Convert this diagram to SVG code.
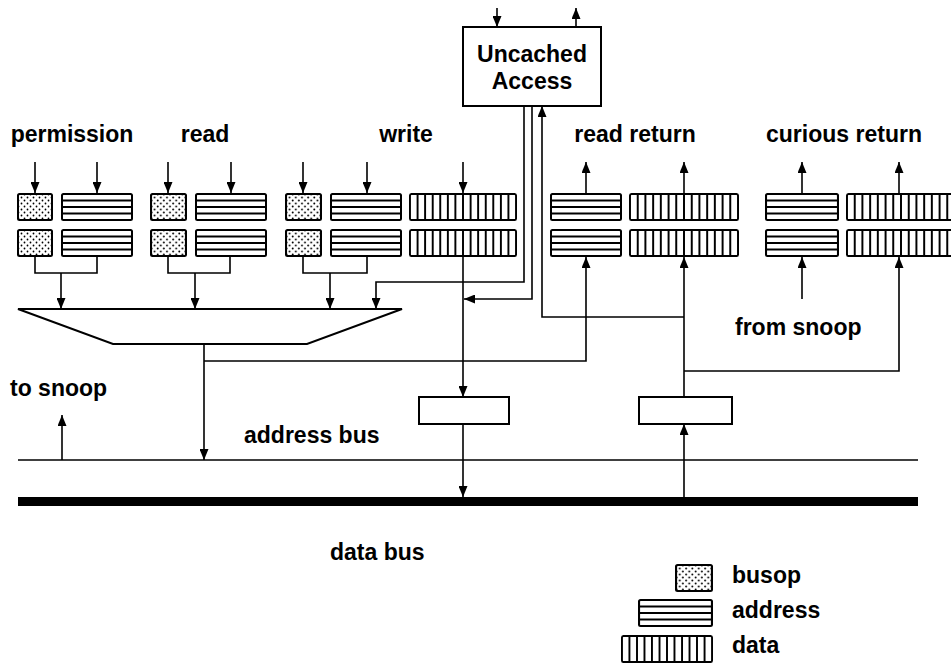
<svg xmlns="http://www.w3.org/2000/svg" width="951" height="665" viewBox="0 0 951 665">
  <style>
    .box { fill: #fff; stroke: #000; stroke-width: 2; }
    .wire { fill: none; stroke: #000; stroke-width: 1.6; }
    .arr { marker-end: url(#ah); }
    .lbl { font-family: "Liberation Sans", Arial, sans-serif; font-weight: bold; font-size: 23px; fill: #000; }
    .mid { text-anchor: middle; }
  </style>
  <defs>
    <marker id="ah" viewBox="0 0 11 9" refX="11" refY="4.5" markerWidth="11" markerHeight="9" markerUnits="userSpaceOnUse" orient="auto">
      <path d="M0,0 L11,4.5 L0,9 z" fill="#000"/>
    </marker>
    <pattern id="dots" width="6" height="6" patternUnits="userSpaceOnUse">
      <rect width="6" height="6" fill="#fff"/>
      <circle cx="1.5" cy="1.5" r="0.9" fill="#000"/>
      <circle cx="4.5" cy="4.5" r="0.9" fill="#000"/>
    </pattern>
    <!-- busop cell: dotted fill -->
    <symbol id="busop" viewBox="0 0 36 28" preserveAspectRatio="none">
      <rect x="1" y="1" width="34" height="26" rx="1.5" fill="url(#dots)" stroke="#000" stroke-width="2"/>
    </symbol>
    <!-- address cell: horizontal bands -->
    <symbol id="addr" viewBox="0 0 72 28" preserveAspectRatio="none">
      <rect x="1" y="1" width="70" height="26" rx="1.5" class="box"/>
      <path d="M1 7.5H71M1 14H71M1 20.5H71" stroke="#000" stroke-width="2"/>
    </symbol>
    <!-- data cell: vertical bands -->
    <symbol id="data" viewBox="0 0 112 28" preserveAspectRatio="none">
      <rect x="1" y="1" width="110" height="26" rx="1.5" class="box"/>
      <path d="M8.9 1V27M16.7 1V27M24.6 1V27M32.4 1V27M40.3 1V27M48.1 1V27M56 1V27M63.9 1V27M71.7 1V27M79.6 1V27M87.4 1V27M95.3 1V27M103.1 1V27" stroke="#000" stroke-width="2"/>
    </symbol>
    <symbol id="data12" viewBox="0 0 96 28" preserveAspectRatio="none">
      <rect x="1" y="1" width="94" height="26" rx="1.5" class="box"/>
      <path d="M8.8 1V27M16.7 1V27M24.5 1V27M32.3 1V27M40.2 1V27M48 1V27M55.8 1V27M63.7 1V27M71.5 1V27M79.3 1V27M87.2 1V27" stroke="#000" stroke-width="2"/>
    </symbol>
  </defs>

  <rect width="951" height="665" fill="#fff"/>

  <!-- buses -->
  <g id="address-bus">
    <path d="M18 460H918" stroke="#000" stroke-width="1.6"/>
    <text class="lbl" x="244" y="443">address bus</text>
  </g>
  <g id="data-bus">
    <rect x="18" y="497" width="900" height="9" fill="#000"/>
    <text class="lbl" x="330" y="560">data bus</text>
  </g>

  <!-- uncached access unit -->
  <g id="uncached">
    <rect x="463" y="27" width="138" height="79" class="box"/>
    <text class="lbl mid" x="532" y="62">Uncached</text>
    <text class="lbl mid" x="532" y="89">Access</text>
  </g>

  <!-- request queues -->
  <g id="q-permission">
    <text class="lbl mid" x="72" y="142">permission</text>
    <use href="#busop" x="17" y="193" width="36" height="28"/>
    <use href="#addr" x="61" y="193" width="72" height="28"/>
    <use href="#busop" x="17" y="229" width="36" height="28"/>
    <use href="#addr" x="61" y="229" width="72" height="28"/>
  </g>
  <g id="q-read">
    <text class="lbl mid" x="205" y="142">read</text>
    <use href="#busop" x="150" y="193" width="37" height="28"/>
    <use href="#addr" x="195" y="193" width="72" height="28"/>
    <use href="#busop" x="150" y="229" width="37" height="28"/>
    <use href="#addr" x="195" y="229" width="72" height="28"/>
  </g>
  <g id="q-write">
    <text class="lbl mid" x="406" y="142">write</text>
    <use href="#busop" x="285" y="193" width="37" height="28"/>
    <use href="#addr" x="330" y="193" width="72" height="28"/>
    <use href="#data" x="409" y="193" width="108" height="28"/>
    <use href="#busop" x="285" y="229" width="37" height="28"/>
    <use href="#addr" x="330" y="229" width="72" height="28"/>
    <use href="#data" x="409" y="229" width="108" height="28"/>
  </g>

  <!-- return queues -->
  <g id="q-read-return">
    <text class="lbl mid" x="635" y="142">read return</text>
    <use href="#addr" x="550" y="193" width="72" height="28"/>
    <use href="#data" x="629" y="193" width="110" height="28"/>
    <use href="#addr" x="550" y="229" width="72" height="28"/>
    <use href="#data" x="629" y="229" width="110" height="28"/>
  </g>
  <g id="q-curious-return">
    <text class="lbl mid" x="844" y="142">curious return</text>
    <use href="#addr" x="765" y="193" width="74" height="28"/>
    <use href="#data" x="846" y="193" width="110" height="28"/>
    <use href="#addr" x="765" y="229" width="74" height="28"/>
    <use href="#data" x="846" y="229" width="110" height="28"/>
    <text class="lbl" x="735" y="335">from snoop</text>
  </g>

  <!-- arbiter / multiplexer -->
  <g id="mux">
    <polygon points="18,309 402,309 307,344 113,344" class="box"/>
  </g>

  <!-- bus interface registers -->
  <g id="reg-out">
    <rect x="419" y="397" width="90" height="27" class="box"/>
  </g>
  <g id="reg-in">
    <rect x="639" y="397" width="93" height="27" class="box"/>
  </g>

  <g id="to-snoop">
    <text class="lbl" x="10" y="396">to snoop</text>
  </g>

  <!-- connectors -->
  <g id="connectors" class="wire">
    <!-- queue inputs -->
    <path class="arr" d="M35 162V193"/>
    <path class="arr" d="M97 162V193"/>
    <path class="arr" d="M168 162V193"/>
    <path class="arr" d="M231 162V193"/>
    <path class="arr" d="M303 162V193"/>
    <path class="arr" d="M367 162V193"/>
    <path class="arr" d="M463 162V193"/>
    <!-- return queue outputs -->
    <path class="arr" d="M586 193V162"/>
    <path class="arr" d="M684 193V162"/>
    <path class="arr" d="M802 193V162"/>
    <path class="arr" d="M899 193V162"/>
    <!-- uncached access in/out -->
    <path class="arr" d="M497 8V27"/>
    <path class="arr" d="M576 27V8"/>
    <!-- queue heads into the multiplexer -->
    <path d="M35 257V273H97V257"/>
    <path class="arr" d="M61 273V309"/>
    <path d="M168 257V273H230V257"/>
    <path class="arr" d="M195 273V309"/>
    <path d="M303 257V273H367V257"/>
    <path class="arr" d="M330 273V309"/>
    <!-- uncached access paths -->
    <path class="arr" d="M524 106V282H376V309"/>
    <path class="arr" d="M532 106V299H464"/>
    <path class="arr" d="M684 317H542V106"/>
    <!-- write data to the data bus -->
    <path class="arr" d="M463 257V397"/>
    <path class="arr" d="M463 424V497"/>
    <!-- multiplexer output -->
    <path class="arr" d="M204 344V460"/>
    <path class="arr" d="M204 361H586V257"/>
    <!-- incoming data -->
    <path class="arr" d="M684 497V424"/>
    <path class="arr" d="M684 397V257"/>
    <path class="arr" d="M684 371H899V257"/>
    <!-- snoop -->
    <path class="arr" d="M802 299V257"/>
    <path class="arr" d="M62 460V415"/>
  </g>

  <!-- legend -->
  <g id="legend">
    <use href="#busop" x="675" y="564" width="38" height="28"/>
    <text class="lbl" x="732" y="583">busop</text>
    <use href="#addr" x="638" y="599" width="75" height="28"/>
    <text class="lbl" x="732" y="618">address</text>
    <use href="#data12" x="621" y="635" width="92" height="28"/>
    <text class="lbl" x="732" y="653">data</text>
  </g>
</svg>
